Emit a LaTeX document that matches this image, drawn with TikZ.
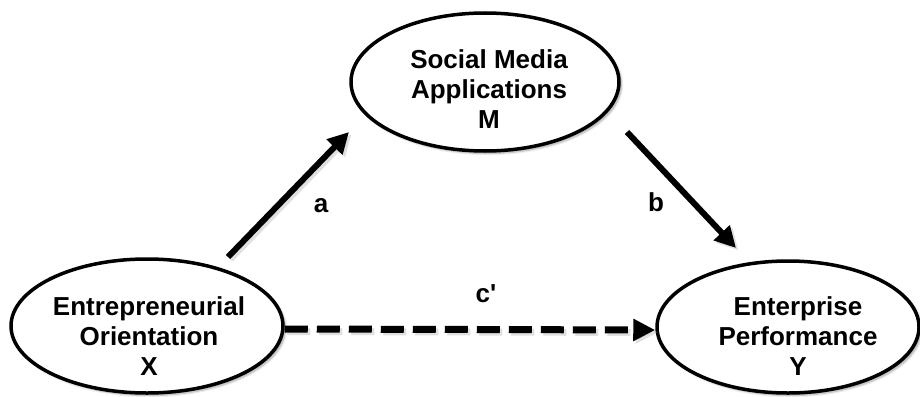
\documentclass[tikz,border=0pt]{standalone}
\usepackage{fontspec}
\setmainfont{Liberation Sans}
\usetikzlibrary{arrows.meta,shapes.geometric,shadows.blur,calc}

\tikzset{
  construct/.style={ellipse, draw=black, line width=3.5pt, fill=white,
    minimum width=#1, inner sep=0pt,
    blur shadow={shadow xshift=2.5pt, shadow yshift=-2.5pt,
      shadow blur steps=6, shadow opacity=35}},
  constructtext/.style={align=center, inner sep=0pt,
    font=\bfseries\fontsize{26}{30}\selectfont},
  pathlabel/.style={inner sep=0pt, font=\bfseries\fontsize{26}{30}\selectfont},
  patharrow/.style={line width=6pt, -{Triangle[length=21pt,width=21pt]}},
  pathshadow/.style={line width=6pt, -{Triangle[length=21pt,width=21pt]},
    draw=black!40, opacity=0.3, transform canvas={shift={(2.5pt,-2.5pt)}}},
  directarrow/.style={line width=7pt, dash pattern=on 23pt off 9pt,
    -{Triangle[length=22pt,width=21pt]}},
  directshadow/.style={directarrow, draw=black!40, opacity=0.3,
    transform canvas={shift={(2.5pt,-2.5pt)}}}
}

\begin{document}
\begin{tikzpicture}[x=1pt,y=-1pt]
  \useasboundingbox (0,0) rectangle (920,396);

  % the three constructs of the mediation model
  \node[construct=272pt, minimum height=134pt] (X) at (147,326) {};
  \node[construct=268pt, minimum height=138pt] (M) at (485,82) {};
  \node[construct=262pt, minimum height=132pt] (Y) at (788,327) {};

  \node[constructtext] (Xt) at (149,336) {Entrepreneurial\\Orientation\\X};
  \node[constructtext] (Mt) at (489,89) {Social Media\\Applications\\M};
  \node[constructtext] (Yt) at (798,336) {Enterprise\\Performance\\Y};

  % end points of the three paths
  \coordinate (a0) at ($(X.center)+(81,-69)$);
  \coordinate (a1) at ($(M.center)+(-136,50)$);
  \coordinate (b0) at ($(M.center)+(142,50)$);
  \coordinate (b1) at ($(Y.center)+(-52,-79)$);
  \coordinate (c0) at ($(X.east)+(0,3)$);
  \coordinate (c1) at ($(Y.west)+(0,3)$);

  % soft shadows under the arrows
  \draw[pathshadow] (a0) -- (a1);
  \draw[pathshadow] (b0) -- (b1);
  \draw[directshadow] (c0) -- (c1);

  % path a: X -> M, path b: M -> Y
  \draw[patharrow] (a0) -- (a1);
  \draw[patharrow] (b0) -- (b1);

  % direct path c': X -> Y
  \draw[directarrow] (c0) -- (c1);

  % path labels
  \node[pathlabel] (la) at (321,206) {a};
  \node[pathlabel] (lb) at (656,202) {b};
  \node[pathlabel] (lc) at (486,294) {c\textquotesingle};
\end{tikzpicture}
\end{document}
